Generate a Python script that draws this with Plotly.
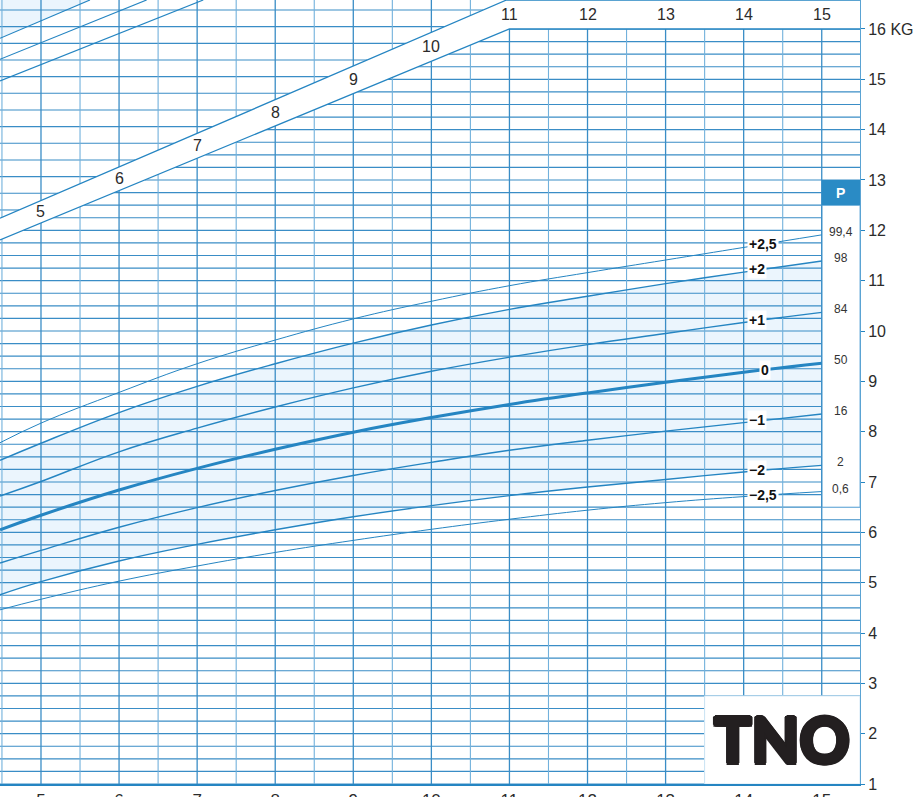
import numpy as np
import plotly.graph_objects as go

# ---------------- data ----------------
months = [4.475, 5, 6, 7, 8, 9, 10, 11, 12, 13, 14, 15]
sd_p25 = [7.78, 8.17, 8.78, 9.35, 9.82, 10.24, 10.59, 10.90, 11.16, 11.41, 11.66, 11.91]
sd_p2 = [7.43, 7.77, 8.38, 8.90, 9.35, 9.76, 10.12, 10.43, 10.69, 10.94, 11.17, 11.39]
sd_p1 = [6.72, 7.01, 7.60, 8.07, 8.49, 8.87, 9.20, 9.48, 9.73, 9.95, 10.17, 10.37]
sd_0 = [6.05, 6.34, 6.84, 7.27, 7.65, 7.99, 8.28, 8.54, 8.77, 8.98, 9.18, 9.36]
sd_m1 = [5.39, 5.64, 6.10, 6.49, 6.83, 7.13, 7.39, 7.63, 7.83, 8.01, 8.18, 8.35]
sd_m2 = [4.76, 5.02, 5.43, 5.76, 6.05, 6.31, 6.53, 6.73, 6.90, 7.05, 7.20, 7.33]
sd_m25 = [4.46, 4.67, 5.03, 5.33, 5.60, 5.84, 6.06, 6.26, 6.44, 6.59, 6.71, 6.81]

sd_labels = ["+2,5", "+2", "+1", "0", "\u22121", "\u22122", "\u22122,5"]
pct_labels = ["99,4", "98", "84", "50", "16", "2", "0,6"]

# curves of the (length) chart visible top-left
tl_m = [[4.475, 5.627], [4.475, 6.353], [4.475, 7.078]]
tl_v = [[15.815, 16.576], [15.398, 16.576], [14.967, 16.576]]

# diagonal age band
band_low_m = [4.475, 11.0, 15.49]
band_low_v = [11.81, 16.0, 16.0]
band_up_m = [4.475, 10.963, 15.49]
band_up_v = [12.24, 16.576, 16.576]
band_months = [5, 6, 7, 8, 9, 10, 11, 12, 13, 14, 15]

x_ticks = [5, 6, 7, 8, 9, 10, 11, 12, 13, 14, 15]
y_ticks = list(range(1, 17))
y_ticktext = [str(v) for v in y_ticks[:-1]] + ["16 KG"]

# ---------------- style ----------------
XMIN, XMAX = 4.475, 15.49
YMIN, YMAX = 1.0, 16.576
BLUE = "#2585c2"
GRID = "#3a8dc6"
GRID_LIGHT = "#72b1dc"
FILL = "#ebf5fd"
TXT = "#2b2b2b"

fig = go.Figure()

curves = [sd_p25, sd_p2, sd_p1, sd_0, sd_m1, sd_m2, sd_m25]
widths = [1.0, 1.4, 1.4, 3.0, 1.4, 1.4, 1.0]

# fill between -2 and +2
fig.add_trace(go.Scatter(x=months, y=sd_m2, mode="lines", line=dict(width=0, shape="spline"),
                         hoverinfo="skip", showlegend=False))
fig.add_trace(go.Scatter(x=months, y=sd_p2, mode="lines", line=dict(width=0, shape="spline"),
                         fill="tonexty", fillcolor=FILL, hoverinfo="skip", showlegend=False))
# fill top-left (length chart)
fig.add_trace(go.Scatter(x=tl_m[0] + [tl_m[0][0]], y=tl_v[0] + [YMAX], mode="lines",
                         line=dict(width=0), fill="toself", fillcolor=FILL,
                         hoverinfo="skip", showlegend=False))

# ---------------- grid ----------------
def seg_lists(segs):
    xs, ys = [], []
    for (x0, y0, x1, y1) in segs:
        xs += [x0, x1, None]
        ys += [y0, y1, None]
    return xs, ys

# horizontal lines of the weight chart (every 0.25 kg), stopping at the band
hsegs = []
for h in np.arange(1.0, 16.001, 0.25):
    if h <= band_low_v[0]:
        xs = XMIN
    else:
        xs = float(np.interp(h, band_low_v[:2], band_low_m[:2]))
    hsegs.append((xs, h, XMAX, h))
# horizontal lines of the length chart above the band
step_up = 16.67 / 50.35
h = YMAX - 10.0 / 50.35
while h > band_up_v[0]:
    xe = float(np.interp(h, band_up_v[:2], band_up_m[:2]))
    hsegs.append((XMIN, h, xe, h))
    h -= step_up
gx, gy = seg_lists(hsegs)
fig.add_trace(go.Scatter(x=gx, y=gy, mode="lines", line=dict(color=GRID, width=1.1),
                         hoverinfo="skip", showlegend=False))

vsegs_half = [(m, YMIN, m, YMAX) for m in np.arange(4.5, 15.0, 1.0)]
vx, vy = seg_lists(vsegs_half)
fig.add_trace(go.Scatter(x=vx, y=vy, mode="lines", line=dict(color=GRID_LIGHT, width=1.1),
                         hoverinfo="skip", showlegend=False))
vsegs = [(m, YMIN, m, YMAX) for m in x_ticks]
vx, vy = seg_lists(vsegs)
fig.add_trace(go.Scatter(x=vx, y=vy, mode="lines", line=dict(color=GRID, width=1.3),
                         hoverinfo="skip", showlegend=False))

# ---------------- masks ----------------
band_x = band_low_m + band_up_m[::-1]
band_y = band_low_v + band_up_v[::-1]
fig.add_trace(go.Scatter(x=band_x, y=band_y, mode="lines", line=dict(width=0),
                         fill="toself", fillcolor="white", hoverinfo="skip", showlegend=False))
# percentile column
fig.add_trace(go.Scatter(x=[15.0, XMAX, XMAX, 15.0, 15.0], y=[6.5, 6.5, 12.5, 12.5, 6.5],
                         mode="lines", line=dict(width=1, color=GRID_LIGHT),
                         fill="toself", fillcolor="white", hoverinfo="skip", showlegend=False))
fig.add_trace(go.Scatter(x=[15.0, 15.0], y=[6.5, 12.5], mode="lines",
                         line=dict(width=1.3, color=GRID), hoverinfo="skip", showlegend=False))
# P header
fig.add_trace(go.Scatter(x=[15.0, XMAX, XMAX, 15.0, 15.0], y=[12.5, 12.5, 13.0, 13.0, 12.5],
                         mode="lines", line=dict(width=0), fill="toself", fillcolor="#2a8bc5",
                         hoverinfo="skip", showlegend=False))
# TNO box
fig.add_trace(go.Scatter(x=[13.5, 13.5, XMAX, XMAX, 13.5], y=[YMIN, 2.75, 2.75, YMIN, YMIN],
                         mode="lines", line=dict(width=1, color="#d2e7f5"),
                         fill="toself", fillcolor="white", hoverinfo="skip", showlegend=False))

# band edges
fig.add_trace(go.Scatter(x=band_low_m, y=band_low_v, mode="lines", line=dict(color=BLUE, width=1.3),
                         hoverinfo="skip", showlegend=False))
fig.add_trace(go.Scatter(x=band_up_m, y=band_up_v, mode="lines", line=dict(color=BLUE, width=1.3),
                         hoverinfo="skip", showlegend=False))

# ---------------- curves ----------------
for c, w in zip(curves, widths):
    fig.add_trace(go.Scatter(x=months, y=c, mode="lines",
                             line=dict(color=BLUE, width=w, shape="spline", smoothing=1.2),
                             hoverinfo="skip", showlegend=False))
for mm, vv in zip(tl_m, tl_v):
    fig.add_trace(go.Scatter(x=mm, y=vv, mode="lines", line=dict(color=BLUE, width=1.2),
                             hoverinfo="skip", showlegend=False))

# ---------------- annotations ----------------
ann = []
lab_x = 14.04
for c, lab in zip(curves, sd_labels):
    yv = float(np.interp(14.25, months, c))
    if lab == "0":
        ann.append(dict(x=14.27, y=yv, text="<b>0</b>", xanchor="center", yanchor="middle",
                        showarrow=False, bgcolor="white", borderpad=1,
                        font=dict(size=14, color="#111", family="Liberation Sans")))
    else:
        ann.append(dict(x=lab_x, y=yv, text="<b>" + lab + "</b>", xanchor="left", yanchor="middle",
                        showarrow=False, bgcolor="white", borderpad=1,
                        font=dict(size=14, color="#111", family="Liberation Sans")))
for c, lab in zip(curves, pct_labels):
    ann.append(dict(x=15.245, y=c[-1], yshift=3, text=lab, xanchor="center", yanchor="middle",
                    showarrow=False, font=dict(size=12, color="#333", family="Liberation Sans")))
ann.append(dict(x=15.245, y=12.75, text="<b>P</b>", showarrow=False, xanchor="center", yanchor="middle",
                font=dict(size=14, color="white", family="Liberation Sans")))
# age labels in the band
for m in band_months:
    lo = float(np.interp(m, band_low_m, band_low_v))
    up = float(np.interp(m, band_up_m, band_up_v))
    ann.append(dict(x=m, y=(lo + up) / 2, text=str(m), showarrow=False, xanchor="center",
                    yanchor="middle", font=dict(size=16, color=TXT, family="Liberation Sans")))
# TNO logo
ann.append(dict(x=14.494, y=1.89, text="TNO", showarrow=False, xanchor="center", yanchor="middle",
                font=dict(size=62, color="#231f20", family="Lato", weight=900,
                          shadow="2px 0 0 #231f20, -2px 0 0 #231f20, 0 2px 0 #231f20, "
                                 "0 -2px 0 #231f20, 1.5px 1.5px 0 #231f20, -1.5px -1.5px 0 #231f20, "
                                 "1.5px -1.5px 0 #231f20, -1.5px 1.5px 0 #231f20")))

fig.update_layout(
    width=924, height=797,
    margin=dict(l=0, r=64, t=0, b=13, autoexpand=False),
    paper_bgcolor="white", plot_bgcolor="white",
    showlegend=False,
    annotations=ann,
    font=dict(family="Liberation Sans", color=TXT),
    xaxis=dict(range=[XMIN, XMAX], showgrid=False, zeroline=False, tickvals=x_ticks,
               ticks="", showline=True, linecolor=BLUE, linewidth=2,
               tickfont=dict(size=17, color=TXT), fixedrange=True, automargin=False),
    yaxis=dict(range=[YMIN, YMAX], side="right", showgrid=False, zeroline=False,
               tickvals=y_ticks, ticktext=y_ticktext, ticks="outside", ticklen=4,
               tickcolor=BLUE, showline=True, linecolor="#5aa3d3", linewidth=1,
               tickfont=dict(size=16, color=TXT), fixedrange=True, automargin=False),
)

fig.write_html("out.html", config={"displayModeBar": False},
               post_script="document.body.style.margin='0';")
